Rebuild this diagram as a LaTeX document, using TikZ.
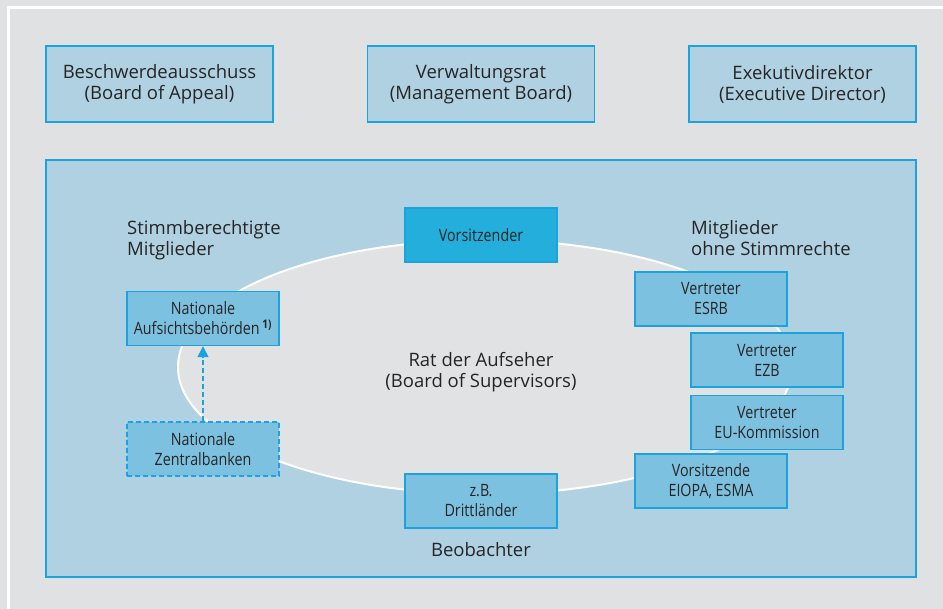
\documentclass[tikz,border=0pt]{standalone}
\usepackage{fontspec}
\setmainfont{Open Sans}
\newfontfamily\narrowfont[FakeStretch=0.84]{Open Sans}
\usepackage{xcolor}
\usetikzlibrary{arrows.meta, positioning, shapes.geometric}

\definecolor{bggray}{HTML}{DFE1E3}
\definecolor{panelblue}{HTML}{B0D1E2}
\definecolor{edgeblue}{HTML}{1AA3DC}
\definecolor{memberblue}{HTML}{7DC1E0}
\definecolor{chairblue}{HTML}{23AEDB}
\definecolor{ovalgray}{HTML}{E0E2E4}
\definecolor{inkgray}{HTML}{262526}

\begin{document}
\begin{tikzpicture}[
  x=1pt, y=-1pt,
  every node/.style={text=inkgray, font=\fontsize{18.5}{21}\selectfont, inner sep=0pt},
  box/.style={draw=edgeblue, line width=1.4pt, align=center},
  head/.style={box, fill=panelblue, minimum width=227pt, minimum height=76pt},
  member/.style={box, fill=memberblue, minimum width=152pt, minimum height=54pt,
    font=\narrowfont\fontsize{17}{20}\selectfont},
  chair/.style={member, fill=chairblue},
  label/.style={align=left, anchor=north west},
  arr/.style={-{Triangle[length=11pt, width=11pt]}, edgeblue, line width=1.4pt,
    dash pattern=on 5pt off 3pt},
]
% background and frame
\fill[bggray] (0,0) rectangle (943,609);
\useasboundingbox (0,0) rectangle (943,609);
\draw[white, line width=3pt] (8,609) -- (8,8) -- (943,8);

% the three bodies on top
\node[head] (appeal) at (159.5,84) {Beschwerdeausschuss\\(Board of Appeal)};
\node[head] (mgmt) at (481,84) {Verwaltungsrat\\(Management Board)};
\node[head] (exec) at (802.5,84) {Exekutivdirektor\\(Executive Director)};

% board of supervisors
\node[box, fill=panelblue, minimum width=870pt, minimum height=417pt] (panel) at (481,368.5) {};
\node[ellipse, draw=white, line width=2pt, fill=ovalgray,
  minimum width=614pt, minimum height=254pt] (council) at (485,367) {};
\node[align=center] (councilname) at (481,372) {Rat der Aufseher\\(Board of Supervisors)};

\node[chair] (chair) at (481,235) {Vorsitzender};

% voting members
\node[label] (voting) at (127,220) {Stimmberechtigte\\Mitglieder};
\node[member] (nab) at (203,318.5) {Nationale\\Aufsichtsbehörden\,\textsuperscript{\bfseries 1)}};
\node[member, dashed, dash pattern=on 5pt off 3pt] (nzb) at (203,449) {Nationale\\Zentralbanken};
\draw[arr] (nzb) -- (nab);

% members without voting rights
\node[label] (nonvoting) at (691,220) {Mitglieder\\ohne Stimmrechte};
\node[member] (esrb) at (711,299) {Vertreter\\ESRB};
\node[member] (ezb) at (767,360) {Vertreter\\EZB};
\node[member, below=7pt of ezb] (euk) {Vertreter\\EU-Kommission};
\node[member] (eiopa) at (711,481) {Vorsitzende\\EIOPA, ESMA};

% observers
\node[member] (third) at (481,501) {z.B.\\Drittländer};
\node (observers) at (481,550) {Beobachter};
\end{tikzpicture}
\end{document}
